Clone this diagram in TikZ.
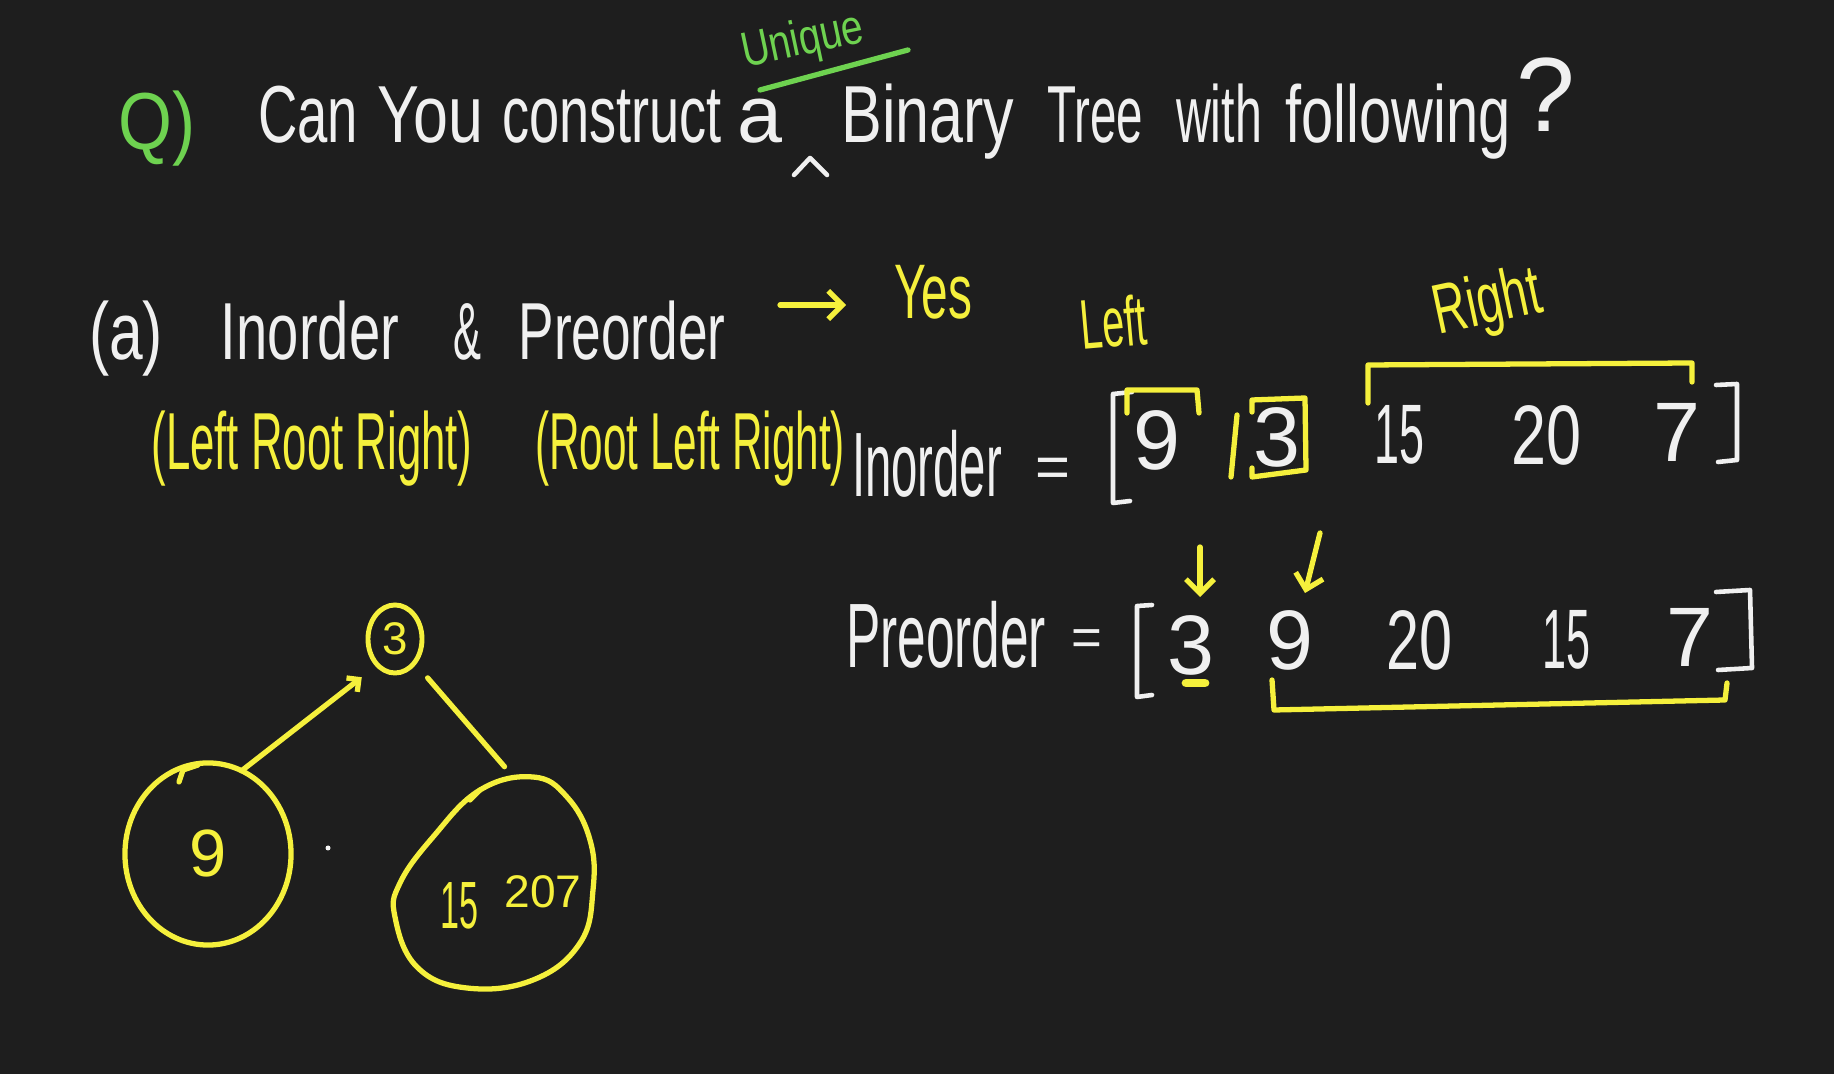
\documentclass[tikz,border=0pt]{standalone}
\usepackage{fontspec}
\setmainfont{Liberation Sans}
\usetikzlibrary{arrows.meta,shapes.geometric}
\definecolor{bg}{RGB}{30,30,30}
\definecolor{hy}{RGB}{245,240,60}
\definecolor{hg}{RGB}{110,210,80}
\definecolor{hw}{RGB}{240,240,240}
\newlength\pxu \setlength\pxu{0.01cm}
\newcommand\fw[2]{\resizebox{#1\pxu}{\height}{#2}}
\newcommand\fsz[1]{\fontsize{#1}{#1}\selectfont}
\begin{document}
\begin{tikzpicture}[x=0.01cm,y=-0.01cm,
  every node/.style={inner sep=0pt,outer sep=0pt},
  wt/.style={text=hw,anchor=base},
  yt/.style={text=hy,anchor=base},
  gt/.style={text=hg,anchor=base},
  wc/.style={text=hw,anchor=center},
  wl/.style={draw=hw,line width=1.3pt,line cap=round,line join=round},
  yl/.style={draw=hy,line width=1.5pt,line cap=round,line join=round},
  gl/.style={draw=hg,line width=1.5pt,line cap=round,line join=round},
  barb/.style={-{Straight Barb[length=4pt,width=8pt]}},
]
\fill[bg] (0,0) rectangle (1834,1074);
\useasboundingbox (0,0) rectangle (1834,1074);

% ---- title line
\node[gt,font=\fsz{23}] (q) at (157,150) {\fw{77}{Q)}};
\node[wt,font=\fsz{23}] (can) at (308,143) {\fw{100}{Can}};
\node[wt,font=\fsz{23}] (you) at (430,143) {\fw{106}{You}};
\node[wt,font=\fsz{23}] (constr) at (612,143) {\fw{220}{construct}};
\node[wt,font=\fsz{23}] (a) at (760,143) {a};
\node[wt,font=\fsz{23}] (binary) at (928,143) {\fw{173}{Binary}};
\node[wt,font=\fsz{23}] (tree) at (1095,143) {\fw{96}{Tree}};
\node[wt,font=\fsz{23}] (with) at (1219,143) {\fw{86}{with}};
\node[wt,font=\fsz{23}] (foll) at (1398,143) {\fw{225}{following}};
\node[wt,font=\fsz{30}] (qm) at (1546,132) {?};
\node[text=hg,font=\fsz{14},rotate=12] (uniq) at (803,42) {\fw{124}{Unique}};
\coordinate (ul1) at (760,90);
\coordinate (ul2) at (908,50);
\draw[gl] (ul1) -- (ul2);
\coordinate (c1) at (794,175);
\coordinate (c2) at (810,158);
\coordinate (c3) at (827,175);
\draw[wl] (c1) -- (c2) -- (c3);

% ---- row 2
\node[wt,font=\fsz{23}] (pa) at (126,360) {\fw{74}{(a)}};
\node[wt,font=\fsz{23}] (ino) at (310,360) {\fw{178}{Inorder}};
\node[wt,font=\fsz{23}] (amp) at (467,360) {\fw{28}{\&}};
\node[wt,font=\fsz{23}] (pre) at (622,360) {\fw{207}{Preorder}};
\coordinate (ar1) at (780,305);
\coordinate (ar2) at (846,305);
\draw[yl,barb] (ar1) -- (ar2);
\node[text=hy,font=\fsz{22}] (yes) at (933,292) {\fw{78}{Yes}};
\node[text=hy,font=\fsz{20},rotate=5] (left) at (1113,322) {\fw{66}{Left}};
\node[text=hy,font=\fsz{20},rotate=12] (right) at (1488,305) {\fw{108}{Right}};

% ---- row 3
\node[yt,font=\fsz{23}] (lrr) at (312,470) {\fw{321}{(Left Root Right)}};
\node[yt,font=\fsz{23}] (rlr) at (690,470) {\fw{310}{(Root Left Right)}};

% ---- inorder
\node[wt,font=\fsz{26}] (inlab) at (927,497) {\fw{150}{Inorder}};
\node[wc,font=\fsz{17}] (ineq) at (1053,473) {=};
\draw[wl] (1132,392) -- (1113,394) -- (1113,503) -- (1130,501);
\node[wc,font=\fsz{24}] (in9) at (1157,440) {9};
\node[wc,font=\fsz{24}] (in3) at (1277,437) {3};
\node[wc,font=\fsz{24}] (in15) at (1399,435) {\fw{50}{15}};
\node[wc,font=\fsz{24}] (in20) at (1546,435) {\fw{70}{20}};
\node[wc,font=\fsz{24}] (in7) at (1677,432) {7};
\draw[wl] (1716,385) -- (1737,384) -- (1737,460) -- (1718,462);
\draw[yl] (1127,413) -- (1127,390) -- (1197,390) -- (1199,413);
\draw[yl] (1231,477) -- (1237,415);
\draw[yl] (1252,412) -- (1252,400) -- (1305,398) -- (1306,470) -- (1252,477) -- (1252,468);
\draw[yl] (1368,403) -- (1368,365) -- (1692,363) -- (1692,382);

% ---- preorder
\node[wt,font=\fsz{26}] (prelab) at (946,668) {\fw{200}{Preorder}};
\node[wc,font=\fsz{15}] (preeq) at (1087,643) {=};
\draw[wl] (1152,605) -- (1137,606) -- (1137,697) -- (1152,695);
\node[wc,font=\fsz{24}] (pre3) at (1191,645) {3};
\node[wc,font=\fsz{24}] (pre9) at (1290,640) {9};
\node[wc,font=\fsz{24}] (pre20) at (1419,640) {\fw{66}{20}};
\node[wc,font=\fsz{24}] (pre15) at (1566,640) {\fw{48}{15}};
\node[wc,font=\fsz{24}] (pre7) at (1690,637) {7};
\draw[wl] (1716,592) -- (1750,590) -- (1752,668) -- (1718,670);
\draw[yl,line width=2.5pt] (1186,683) -- (1205,683);
\coordinate (d1s) at (1200,547);
\coordinate (d1e) at (1200,597);
\coordinate (d2s) at (1320,533);
\coordinate (d2e) at (1305,593);
\draw[yl,barb] (d1s) -- (d1e);
\draw[yl,barb] (d2s) -- (d2e);
\draw[yl] (1272,680) -- (1274,710) -- (1725,700) -- (1727,683);

% ---- tree
\node[ellipse,draw=hy,line width=1.4pt,minimum width=0.54cm,minimum height=0.68cm,
      text=hy,font=\fsz{13},outer sep=0.2cm] (r) at (395,639) {3};
\node[ellipse,draw=hy,line width=1.5pt,minimum width=1.66cm,minimum height=1.82cm,
      text=hy,font=\fsz{19}] (lc) at (208,854) {9};
\node[ellipse,minimum width=1.98cm,minimum height=2.12cm] (rc) at (494,880) {};
\draw[yl] plot[smooth cycle,tension=0.7] coordinates {(480,790) (533,777) (567,797) (590,840) (593,890) (580,943) (533,980) (467,988) (417,967) (395,917) (400,883) (433,837)};
\draw[yl] (470,800) -- (480,790);
\node[text=hy,font=\fsz{19}] (t15) at (459,906) {\fw{38}{15}};
\node[text=hy,font=\fsz{13}] (t207) at (543,892) {\fw{77}{207}};
\draw[yl,-{Straight Barb[length=2.5pt,width=5pt]}] (lc.68) -- (r.229);
\draw[yl,shorten >=0.12cm] (r.310) -- (rc.80);
\draw[yl] (179,782) -- (183,770) -- (198,765);
\fill[hw!60] (328,848) circle (2.5);
\end{tikzpicture}
\end{document}
